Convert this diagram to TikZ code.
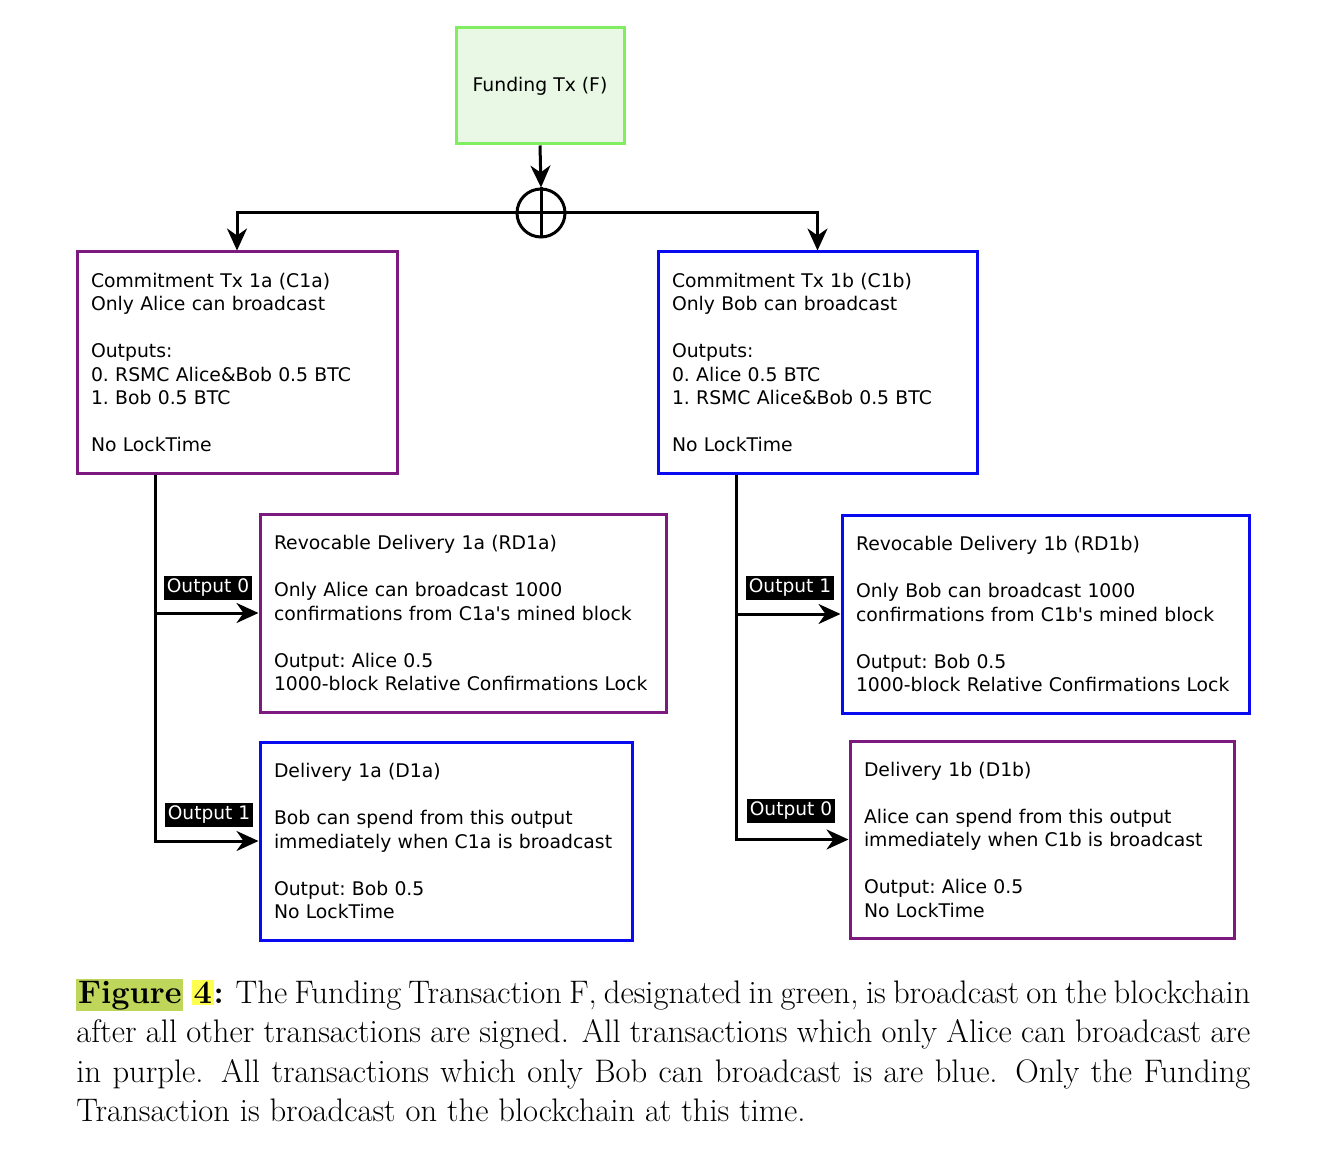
\documentclass[tikz,border=0pt]{standalone}
\usepackage{fontspec}
\newfontfamily\boxfont{DejaVu Sans}
\usetikzlibrary{positioning}
\usetikzlibrary{arrows.meta}

\definecolor{alicepurple}{RGB}{125,26,128}
\definecolor{bobblue}{RGB}{10,10,240}
\definecolor{fundgreen}{RGB}{128,238,96}
\definecolor{fundfill}{RGB}{232,248,228}
\definecolor{figgreen}{RGB}{190,214,90}
\definecolor{figyellow}{RGB}{255,255,80}

\tikzset{
  tx/.style={draw, line width=1.5pt, fill=white, align=left, inner xsep=7pt, font=\boxfont\fontsize{9.4}{11.75}\selectfont\frenchspacing},
  outlabel/.style={fill=black, text=white, inner xsep=1.5pt, inner ysep=1.5pt, font=\boxfont\fontsize{9.3}{11}\selectfont},
  link/.style={line width=1.5pt, -{Stealth[length=11pt, width=10pt, inset=3.5pt]}},
  plain/.style={line width=1.5pt},
}

\begin{document}
\begin{tikzpicture}[x=0.5pt, y=-0.5pt]
\useasboundingbox (0,0) rectangle (1342,1154);

\node[tx, draw=fundgreen, fill=fundfill, align=center, minimum width=84pt, minimum height=58pt] (F) at (540,86) {Funding Tx (F)};
\node[draw, circle, line width=1.5pt, minimum size=24pt, inner sep=0pt] (xor) at (541,213) {};
\draw[plain] (xor.north) -- (xor.south);
\draw[plain] (xor.west) -- (xor.east);

\node[tx, draw=alicepurple, text width=146pt, minimum height=110.5pt] (C1a) at (237,362.5) {Commitment Tx 1a (C1a)\\Only Alice can broadcast\\[11.75pt]Outputs:\\0. RSMC Alice\&Bob 0.5 BTC\\1. Bob 0.5 BTC\\[11.75pt]No LockTime};
\node[tx, draw=bobblue, text width=145.5pt, minimum height=110.5pt] (C1b) at (817.5,362.5) {Commitment Tx 1b (C1b)\\Only Bob can broadcast\\[11.75pt]Outputs:\\0. Alice 0.5 BTC\\1. RSMC Alice\&Bob 0.5 BTC\\[11.75pt]No LockTime};

\node[tx, draw=alicepurple, text width=189pt, minimum height=99pt] (RD1a) at (463,613) {Revocable Delivery 1a (RD1a)\\[11.75pt]Only Alice can broadcast 1000\\confirmations from C1a's mined block\\[11.75pt]Output: Alice 0.5\\1000-block Relative Confirmations Lock};
\node[tx, draw=bobblue, text width=172pt, minimum height=99pt] (D1a) at (446,841) {Delivery 1a (D1a)\\[11.75pt]Bob can spend from this output\\immediately when C1a is broadcast\\[11.75pt]Output: Bob 0.5\\No LockTime};
\node[tx, draw=bobblue, text width=189.5pt, minimum height=99pt] (RD1b) at (1045.5,614) {Revocable Delivery 1b (RD1b)\\[11.75pt]Only Bob can broadcast 1000\\confirmations from C1b's mined block\\[11.75pt]Output: Bob 0.5\\1000-block Relative Confirmations Lock};
\node[tx, draw=alicepurple, text width=178pt, minimum height=98.5pt] (D1b) at (1042,839.5) {Delivery 1b (D1b)\\[11.75pt]Alice can spend from this output\\immediately when C1b is broadcast\\[11.75pt]Output: Alice 0.5\\No LockTime};

% funding splits into the two commitments
\draw[link] (F.south) -- (xor.north);
\draw[link] (xor.west) -| (C1a.north);
\draw[link] (xor.east) -| (C1b.north);

% outputs of the commitments
\path (C1a.south west) ++(80,0) coordinate (tapA);
\path (C1b.south west) ++(80,0) coordinate (tapB);
\draw[link] (tapA) |- (RD1a.west);
\draw[link] (tapA) |- (D1a.west);
\draw[link] (tapB) |- (RD1b.west);
\draw[link] (tapB) |- (D1b.west);

\node[outlabel] (outA0) at (208,588) {Output 0};
\node[outlabel] (outA1) at (209,815) {Output 1};
\node[outlabel] (outB1) at (790,588) {Output 1};
\node[outlabel] (outB0) at (791,811) {Output 0};

\node[anchor=north west, inner sep=0pt, text width=587pt, align=justify, font=\fontsize{16.3}{19.75}\selectfont] (caption) at (76,979) {\setlength{\fboxsep}{0.8pt}\textbf{\colorbox{figgreen}{Figure} \colorbox{figyellow}{4}:} The Funding Transaction F, designated in green, is broadcast on the blockchain\linebreak after all other transactions are signed. All transactions which only Alice can broadcast are\linebreak in purple. All transactions which only Bob can broadcast is are blue. Only the Funding\linebreak Transaction is broadcast on the blockchain at this time.};
\end{tikzpicture}
\end{document}
